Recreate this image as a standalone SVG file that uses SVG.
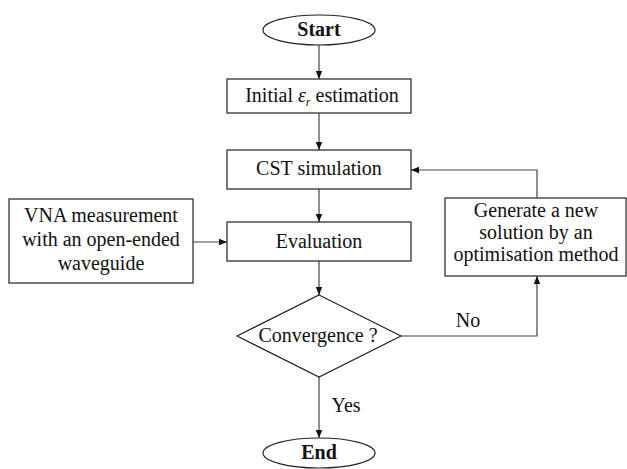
<svg xmlns="http://www.w3.org/2000/svg" width="627" height="469" viewBox="0 0 627 469">
<defs>
<style>
.box{fill:#fff;stroke:#222;stroke-width:1.2}
.t{font-family:'Liberation Serif','Times New Roman',serif;font-size:20px;fill:#111;text-anchor:middle}
.b{font-weight:bold}
.ln{fill:none;stroke:#444;stroke-width:1.2}
</style>
<marker id="ah" viewBox="0 0 10 10" refX="10" refY="5" markerWidth="8" markerHeight="8" markerUnits="userSpaceOnUse" orient="auto">
<path d="M0,1 L10,5 L0,9 z" fill="#111"/>
</marker>
</defs>
<rect width="627" height="469" fill="#fff"/>
<g id="connectors">
<line class="ln" x1="319" y1="45" x2="319" y2="79" marker-end="url(#ah)"/>
<line class="ln" x1="319" y1="113" x2="319" y2="150" marker-end="url(#ah)"/>
<line class="ln" x1="319" y1="189" x2="319" y2="222" marker-end="url(#ah)"/>
<line class="ln" x1="193" y1="242" x2="227" y2="242" marker-end="url(#ah)"/>
<line class="ln" x1="319" y1="261" x2="319" y2="295" marker-end="url(#ah)"/>
<polyline class="ln" points="401,336 537,336 537,276" marker-end="url(#ah)"/>
<polyline class="ln" points="537,198 537,170 411,170" marker-end="url(#ah)"/>
<line class="ln" x1="319" y1="377" x2="319" y2="438" marker-end="url(#ah)"/>
<text class="t" x="468" y="327">No</text>
<text class="t" x="346" y="412">Yes</text>
</g>
<g id="start">
<ellipse class="box" cx="319" cy="30" rx="56" ry="15"/>
<text class="t b" x="319" y="36">Start</text>
</g>
<g id="initial">
<rect class="box" x="227" y="79" width="184" height="34"/>
<text class="t" x="322" y="102">Initial <tspan font-style="italic">ε</tspan><tspan font-style="italic" font-size="12" dy="4">r</tspan><tspan dy="-4"> estimation</tspan></text>
</g>
<g id="cst">
<rect class="box" x="227" y="150" width="184" height="39"/>
<text class="t" x="319" y="175">CST simulation</text>
</g>
<g id="evaluation">
<rect class="box" x="227" y="222" width="184" height="39"/>
<text class="t" x="319" y="248">Evaluation</text>
</g>
<g id="vna">
<rect class="box" x="9" y="199" width="184" height="84"/>
<text class="t" x="101" y="222">VNA measurement</text>
<text class="t" x="101" y="246">with an open-ended</text>
<text class="t" x="101" y="270">waveguide</text>
</g>
<g id="generate">
<rect class="box" x="445" y="198" width="181" height="78"/>
<text class="t" x="536" y="217">Generate a new</text>
<text class="t" x="536" y="239">solution by an</text>
<text class="t" x="536" y="261">optimisation method</text>
</g>
<g id="convergence">
<polygon class="box" points="319,295 401,336 319,377 237,336"/>
<text class="t" x="318" y="342">Convergence ?</text>
</g>
<g id="end">
<ellipse class="box" cx="319" cy="453" rx="56" ry="15"/>
<text class="t b" x="319" y="459">End</text>
</g>
</svg>
